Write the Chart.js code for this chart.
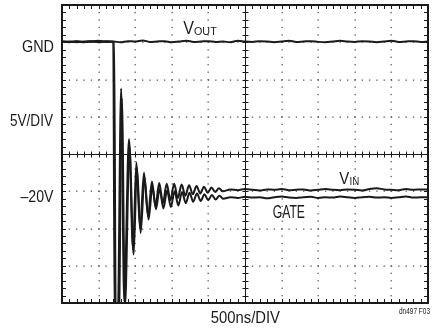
<!DOCTYPE html>
<html>
<head>
<meta charset="utf-8">
<script src="https://cdn.jsdelivr.net/npm/chart.js@4/dist/chart.umd.min.js"></script>
<style>
  html, body { margin: 0; padding: 0; background: #fff; }
  #wrap { width: 439px; height: 328px; }
</style>
</head>
<body>
<div id="wrap"><canvas id="scope"></canvas></div>
<script>
// time in ns (500ns/DIV, 10 div), volts (5V/DIV, 8 div)
const voutT = [0,100,200,300,400,500,600,700,800,900,1000,1100,1200,1300,1400,1500,1600,1700,1800,1900,
  2000,2100,2200,2300,2400,2500,2600,2700,2800,2900,3000,3100,3200,3300,3400,3500,3600,3700,3800,3900,
  4000,4100,4200,4300,4400,4500,4600,4700,4800,4900,5000];
const voutV = [0.1,0.05,0.15,0.0,0.1,0.2,0.05,0.1,0.0,0.15,0.1,0.25,0.05,0.1,0.15,0.0,0.1,0.2,0.05,0.1,
  0.15,0.05,0.1,0.0,0.2,0.1,0.05,0.15,0.1,0.0,0.1,0.2,0.05,0.1,0.15,0.05,0.0,0.1,0.2,0.1,
  0.05,0.15,0.1,0.0,0.1,0.2,0.05,0.1,0.15,0.05,0.1];

const vinT = [0,100,200,300,400,500,600,700,
  720,760,808,850,915,970,1016,1066,1120,1175,1229,1277,1328,1379,1430,1481,1532,1583,1634,1685,
  1736,1787,1838,1889,1940,1991,2042,2093,2144,2195,
  2300,2400,2500,2600,2700,2800,2900,3000,3100,3200,3300,3400,3500,3600,3700,3800,3900,
  4000,4100,4200,4300,4400,4500,4600,4700,4800,4900,5000];
const vinV = [0.05,0.1,0.0,0.1,0.15,0.05,0.1,0.05,
  -38,-38,-6.2,-34.8,-13.0,-27.7,-16.1,-25.0,-17.5,-23.3,-18.7,-22.0,-18.9,-21.6,-19.0,-21.2,-19.0,-20.9,-19.1,-20.6,
  -19.2,-20.4,-19.3,-20.3,-19.4,-20.2,-19.5,-20.1,-19.6,-20.0,
  -19.75,-19.85,-19.7,-19.8,-19.9,-19.75,-19.8,-19.7,-19.85,-19.8,-19.75,-19.9,-19.8,-19.7,-19.8,-19.85,-19.75,
  -19.8,-19.9,-19.7,-19.6,-19.75,-19.8,-19.85,-19.7,-19.8,-19.75,-19.8];

const gateT = [0,100,200,300,400,500,600,712,
  735,775,818,860,922,978,1024,1074,1127,1182,1235,1283,1334,1385,1436,1487,1538,1589,1640,1691,
  1742,1793,1844,1895,1946,1997,2048,2099,2150,2201,
  2300,2400,2500,2600,2700,2800,2900,3000,3100,3200,3300,3400,3500,3600,3700,3800,3900,
  4000,4100,4200,4300,4400,4500,4600,4700,4800,4900,5000];
const gateV = [0.1,0.0,0.1,0.05,0.1,0.0,0.15,0.05,
  -38,-38,-7.5,-35.5,-14.0,-28.5,-16.8,-25.6,-18.2,-23.8,-19.4,-22.4,-19.7,-22.3,-19.9,-22.1,-20.0,-21.9,-20.1,-21.6,
  -20.2,-21.4,-20.3,-21.3,-20.4,-21.2,-20.5,-21.1,-20.6,-21.0,
  -20.8,-20.9,-20.75,-20.85,-20.8,-20.95,-20.8,-20.7,-20.85,-20.9,-20.8,-20.75,-20.9,-20.8,-20.85,-20.7,-20.8,
  -20.9,-20.8,-20.75,-20.85,-20.8,-20.9,-20.8,-20.7,-20.85,-20.8,-20.8];

const yTickVals = [0, -10, -20];
const yTickText = ['GND', '5V/DIV', '\u201320V'];

const FONT = '"Liberation Sans", Arial, sans-serif';
const INK = '#1a1a1a';

function pts(t, v) { return t.map((x, i) => ({ x: x, y: v[i] })); }

// draw text squeezed to a given width (the original uses a condensed face)
function fitText(ctx, str, left, base, size, width) {
  ctx.font = size + 'px ' + FONT;
  const w = ctx.measureText(str).width;
  ctx.save();
  ctx.translate(left, base);
  ctx.scale(width / w, 1);
  ctx.textAlign = 'left';
  ctx.textBaseline = 'alphabetic';
  ctx.fillText(str, 0, 0);
  ctx.restore();
}

// graticule: dotted grid, solid centre cross with ticks, border ticks
const graticule = {
  id: 'graticule',
  beforeDatasetsDraw(chart) {
    const { ctx, chartArea: a, scales: { x, y } } = chart;
    ctx.save();
    ctx.fillStyle = '#555';
    for (let t = 500; t < 5000; t += 500) {
      if (t === 2500) continue;
      const px = Math.round(x.getPixelForValue(t));
      for (let v = 5; v >= -35; v -= 1) ctx.fillRect(px - 0.5, y.getPixelForValue(v) - 0.5, 1.3, 1.3);
    }
    for (let v = 0; v > -35; v -= 5) {
      if (v === -15) continue;
      const py = Math.round(y.getPixelForValue(v));
      for (let t = 0; t <= 5000; t += 100) ctx.fillRect(x.getPixelForValue(t) - 0.5, py - 0.5, 1.3, 1.3);
    }
    ctx.strokeStyle = INK;
    ctx.lineWidth = 1;
    const cx = Math.round(x.getPixelForValue(2500)) + 0.5;
    const cy = Math.round(y.getPixelForValue(-15)) + 0.5;
    ctx.beginPath();
    ctx.moveTo(a.left, cy); ctx.lineTo(a.right, cy);
    ctx.moveTo(cx, a.top); ctx.lineTo(cx, a.bottom);
    for (let t = 0; t <= 5000; t += 100) {
      const px = Math.round(x.getPixelForValue(t)) + 0.5;
      ctx.moveTo(px, cy - 3); ctx.lineTo(px, cy + 3);
      ctx.moveTo(px, a.top); ctx.lineTo(px, a.top + 4);
      ctx.moveTo(px, a.bottom); ctx.lineTo(px, a.bottom - 4);
    }
    for (let v = 5; v >= -35; v -= 1) {
      const py = Math.round(y.getPixelForValue(v)) + 0.5;
      ctx.moveTo(cx - 3, py); ctx.lineTo(cx + 3, py);
      ctx.moveTo(a.left, py); ctx.lineTo(a.left + 4, py);
      ctx.moveTo(a.right, py); ctx.lineTo(a.right - 4, py);
    }
    ctx.stroke();
    ctx.restore();
  },
  afterDraw(chart) {
    const { ctx, chartArea: a, scales: { x, y } } = chart;
    ctx.save();
    ctx.strokeStyle = INK;
    ctx.lineWidth = 2;
    ctx.strokeRect(a.left, a.top, a.right - a.left, a.bottom - a.top);
    ctx.fillStyle = INK;

    // y labels, a little below their grid lines
    fitText(ctx, yTickText[0], 22, y.getPixelForValue(yTickVals[0]) + 9.5, 16, 32);
    fitText(ctx, yTickText[1], 10, y.getPixelForValue(yTickVals[1]) + 9.5, 16, 43);
    fitText(ctx, yTickText[2], 20.5, y.getPixelForValue(yTickVals[2]) + 11, 16, 33);

    // trace names
    fitText(ctx, 'V', 183.3, 34.3, 17.6, 10.7);
    fitText(ctx, 'OUT', 194, 34.5, 11.6, 22.7);
    fitText(ctx, 'V', 339.3, 184, 17, 10);
    fitText(ctx, 'IN', 349.5, 185, 11.6, 9.8);
    fitText(ctx, 'GATE', 272.7, 217.7, 17.7, 32.3);

    fitText(ctx, '500ns/DIV', 210.7, 323.3, 16, 69.3);
    fitText(ctx, 'dn497 F03', 399, 314.3, 9, 31);
    ctx.restore();
  }
};

const lineStyle = { borderColor: INK, borderWidth: 2, pointRadius: 0, cubicInterpolationMode: 'monotone' };

new Chart(document.getElementById('scope'), {
  type: 'line',
  data: {
    datasets: [
      Object.assign({ label: 'VOUT', data: pts(voutT, voutV) }, lineStyle),
      Object.assign({ label: 'VIN', data: pts(vinT, vinV) }, lineStyle),
      Object.assign({ label: 'GATE', data: pts(gateT, gateV) }, lineStyle)
    ]
  },
  options: {
    responsive: true,
    maintainAspectRatio: false,
    animation: false,
    layout: { padding: { top: 5, right: 11, left: 0, bottom: 0 } },
    plugins: { legend: { display: false }, tooltip: { enabled: false } },
    scales: {
      x: {
        type: 'linear', min: 0, max: 5000,
        grid: { display: false },
        border: { display: false },
        ticks: { display: false },
        afterFit(s) { s.height = 25; s.paddingLeft = 0; s.paddingRight = 0; }
      },
      y: {
        type: 'linear', min: -35, max: 5,
        grid: { display: false },
        border: { display: false },
        ticks: { display: false },
        afterFit(s) { s.width = 62; s.paddingTop = 0; s.paddingBottom = 0; }
      }
    }
  },
  plugins: [graticule]
});
</script>
</body>
</html>
